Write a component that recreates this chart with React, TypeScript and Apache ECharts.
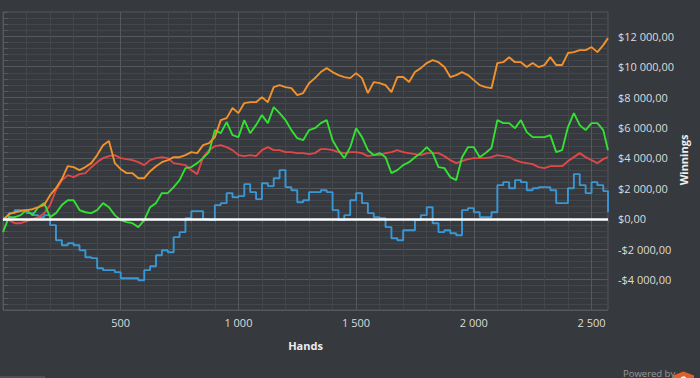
import React, { useEffect, useRef } from "react";
import * as echarts from "echarts";

// Hands (x values)
const hands = [
  0, 25, 50, 75, 100, 125, 150, 175, 200, 225,
  250, 275, 300, 325, 350, 375, 400, 425, 450, 475,
  500, 525, 550, 575, 600, 625, 650, 675, 700, 725,
  750, 775, 800, 825, 850, 875, 900, 925, 950, 975,
  1000, 1025, 1050, 1075, 1100, 1125, 1150, 1175, 1200, 1225,
  1250, 1275, 1300, 1325, 1350, 1375, 1400, 1425, 1450, 1475,
  1500, 1525, 1550, 1575, 1600, 1625, 1650, 1675, 1700, 1725,
  1750, 1775, 1800, 1825, 1850, 1875, 1900, 1925, 1950, 1975,
  2000, 2025, 2050, 2075, 2100, 2125, 2150, 2175, 2200, 2225,
  2250, 2275, 2300, 2325, 2350, 2375, 2400, 2425, 2450, 2475,
  2500, 2525, 2550, 2570,
];

const orangeWinnings = [
  -90, 300, 430, 500, 570, 630, 760, 900, 1550, 2010,
  2610, 3460, 3400, 3200, 3400, 3660, 4190, 4840, 5110, 3660,
  3260, 3000, 3000, 2670, 2670, 3130, 3460, 3720, 3860, 4050,
  4050, 4190, 4380, 4320, 4840, 4970, 5370, 6490, 6620, 7280,
  6950, 7610, 7670, 7670, 8000, 7670, 8660, 8790, 8660, 8590,
  8130, 8270, 8920, 9250, 9650, 9910, 9650, 9450, 9320, 9250,
  9580, 9250, 8270, 8990, 8920, 8790, 8330, 9320, 9320, 8990,
  9650, 9910, 10240, 10440, 10300, 9980, 9320, 9450, 9650, 9450,
  9120, 8790, 8660, 8590, 10240, 10300, 10630, 10300, 10300, 9980,
  10240, 9980, 10110, 10630, 10110, 10110, 10900, 10960, 11090, 11090,
  11290, 10960, 11420, 11880,
];

const redWinnings = [
  105, -92, -290, -290, -158, -26, 105, 368, 895, 1882,
  2540, 2869, 2737, 2935, 3000, 3395, 3724, 3988, 4119, 4185,
  3988, 3922, 3856, 3724, 3527, 3856, 3988, 4053, 3988, 3659,
  3593, 3527, 3198, 2935, 4053, 4514, 4777, 4843, 4711, 4514,
  4185, 4119, 4185, 4119, 4514, 4711, 4514, 4514, 4382, 4382,
  4316, 4316, 4251, 4316, 4580, 4580, 4514, 4382, 4316, 4382,
  4382, 4316, 4119, 4185, 4185, 4316, 4382, 4514, 4382, 4316,
  4251, 4185, 4316, 4316, 4316, 4119, 3856, 3659, 3790, 3922,
  3988, 3988, 3988, 4053, 4185, 4119, 4053, 3856, 3724, 3659,
  3593, 3395, 3330, 3461, 3461, 3461, 3790, 4053, 4316, 4053,
  3856, 3659, 3922, 4053,
];

const greenWinnings = [
  -880, 110, 110, 240, 570, 240, 760, 1030, 110, 370,
  900, 1220, 1220, 570, 430, 370, 570, 1030, 760, 240,
  -90, -220, -290, -550, -90, 760, 1030, 1690, 1690, 2080,
  2540, 3330, 3400, 3660, 3990, 4380, 5830, 5630, 6360, 5500,
  5370, 6490, 5630, 6160, 6820, 6290, 7340, 6950, 6490, 5830,
  5300, 5170, 5830, 5960, 6290, 6490, 5170, 4510, 3990, 4710,
  5960, 5370, 4510, 4190, 4320, 4050, 3000, 3200, 3530, 3720,
  4050, 4320, 4710, 4320, 3400, 3330, 2740, 2540, 4050, 4710,
  4710, 4050, 4320, 4650, 6490, 6290, 6290, 5960, 6490, 5700,
  5370, 5370, 5370, 5500, 4380, 4510, 6030, 6950, 6160, 5830,
  6290, 6290, 5830, 4510,
];

const blueWinnings = [
  -90, 370, 570, 570, 370, 240, 110, 240, -420, -1410,
  -1740, -1610, -1740, -2070, -2530, -2590, -3250, -3380, -3380, -3510,
  -3910, -3910, -3910, -4040, -3380, -3120, -2400, -2070, -2200, -1210,
  -880, 40, 500, 500, -30, -90, 900, 1030, 1690, 1420,
  1490, 2280, 1750, 1290, 2340, 2150, 2670, 3200, 2080, 1880,
  1090, 1220, 1750, 1750, 1880, 1750, 570, -90, 240, 1220,
  1690, 1030, 370, 110, 40, -550, -1280, -1410, -750, -750,
  -90, 240, 760, -290, -880, -750, -950, -1080, 570, 700,
  430, 110, 110, 430, 2210, 2410, 2010, 2540, 2410, 1880,
  2010, 2080, 2080, 1880, 1030, 1030, 2010, 2940, 2210, 1690,
  2410, 2210, 1820, 430,
];

const xMajorStep = 500;
const yMajorStep = 2000;

const FONT = "'Open Sans', 'Noto Sans', sans-serif";
const BG = "#36393d";
const MAJOR = "#55595e";
const MINOR = "#43464b";

function groupThousands(n: number): string {
  return String(n).replace(/\B(?=(\d{3})+(?!\d))/g, " ");
}
function money(v: number): string {
  const neg = v < 0;
  return (neg ? "-" : "") + "$" + groupThousands(Math.abs(v)) + ",00";
}

function line(name: string, vals: number[], color: string, extra: any = {}) {
  return {
    type: "line",
    name,
    data: hands.map((h, i) => [h, vals[i]]),
    showSymbol: false,
    symbol: "none",
    lineStyle: { color, width: 1.9 },
    itemStyle: { color },
    emphasis: { disabled: true },
    ...extra,
  };
}

export default function App() {
  const ref = useRef<HTMLDivElement>(null);
  useEffect(() => {
    document.body.style.margin = "0";
    const chart = echarts.init(ref.current!, null, { renderer: "svg" });
    const option: any = {
      animation: false,
      backgroundColor: BG,
      grid: {
        left: -2,
        right: 92,
        top: 12,
        bottom: 68,
        show: true,
        borderColor: MAJOR,
        borderWidth: 1,
        backgroundColor: "transparent",
      },
      xAxis: {
        type: "value",
        min: 0,
        max: 2570,
        interval: 100,
        axisLine: { show: true, lineStyle: { color: MAJOR, width: 1 } },
        axisTick: { show: true, length: 4, lineStyle: { color: MAJOR } },
        axisLabel: {
          color: "#dcdcdc",
          fontSize: 11,
          fontFamily: FONT,
          margin: 7,
          formatter: (v: number) => (v > 0 && v % xMajorStep === 0 ? groupThousands(v) : ""),
        },
        splitLine: {
          show: true,
          lineStyle: { color: [MAJOR, MINOR, MINOR, MINOR, MINOR], width: 1 },
        },
        name: "Hands",
        nameLocation: "middle",
        nameGap: 30,
        nameTextStyle: { color: "#eeeeee", fontWeight: "bold", fontSize: 11, fontFamily: FONT },
      },
      yAxis: {
        type: "value",
        position: "right",
        min: -6000,
        max: 13600,
        interval: 400,
        axisLine: { show: true, lineStyle: { color: MAJOR, width: 1 } },
        axisTick: { show: true, length: 5, lineStyle: { color: MAJOR } },
        axisLabel: {
          color: "#dcdcdc",
          fontSize: 11,
          fontFamily: FONT,
          margin: 10,
          formatter: (v: number) =>
            v % yMajorStep === 0 && v > -6000 && v <= 12000 ? money(v) : "",
        },
        splitLine: {
          show: true,
          lineStyle: { color: [MAJOR, MINOR, MINOR, MINOR, MINOR], width: 1 },
        },
      },
      series: [
        line("Player 4", blueWinnings, "#3a97d6", { step: "end" }),
        line("Player 3", redWinnings, "#e04848"),
        line("Player 2", greenWinnings, "#33e033"),
        line("Player 1", orangeWinnings, "#f2922c", {
          markLine: {
            silent: true,
            symbol: ["none", "none"],
            label: { show: false },
            lineStyle: { color: "#ffffff", width: 2.5, type: "solid" },
            data: [{ yAxis: 0 }],
          },
        }),
      ],
      graphic: [
        {
          type: "text",
          x: 683,
          y: 160,
          rotation: Math.PI / 2,
          style: {
            text: "Winnings",
            fill: "#eeeeee",
            font: `bold 11px ${FONT}`,
            align: "center",
            verticalAlign: "middle",
          },
        },
        {
          type: "text",
          x: 623,
          y: 373,
          style: {
            text: "Powered by",
            fill: "#9a9a9a",
            font: `9.5px ${FONT}`,
            align: "left",
            verticalAlign: "middle",
          },
        },
        {
          type: "polygon",
          shape: {
            points: [
              [673, 379],
              [673, 375.5],
              [683.5, 371.5],
              [694, 375.5],
              [694, 379],
            ],
          },
          style: { fill: "#e0622a" },
        },
        {
          type: "circle",
          shape: { cx: 683.5, cy: 379.5, r: 3.2 },
          style: { fill: "#f4f4f4" },
        },
        {
          type: "rect",
          shape: { x: 0, y: 376, width: 45, height: 2 },
          style: { fill: "#4c4f54" },
        },
      ],
    };
    chart.setOption(option);
    return () => chart.dispose();
  }, []);
  return (
    <div
      ref={ref}
      style={{ position: "fixed", left: 0, top: 0, width: 700, height: 378 }}
    />
  );
}
